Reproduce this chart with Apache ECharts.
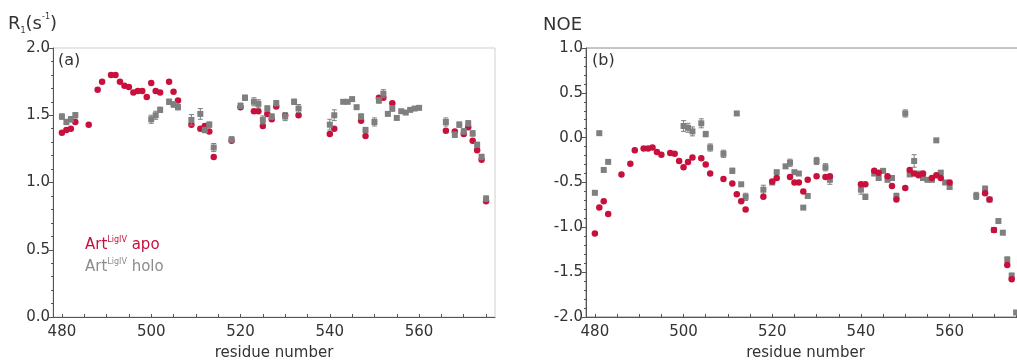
<!DOCTYPE html>
<html>
<head>
<meta charset="utf-8">
<script src="https://cdn.jsdelivr.net/npm/echarts@6/dist/echarts.min.js"></script>
<style>html,body{margin:0;padding:0;background:#fff}#c{width:1017px;height:361px}</style>
</head>
<body>
<div id="c"></div>
<script>
// ---- data (R1 panel a) ----
const r1Residues = [480,481,482,483,486,488,489,491,492,493,494,495,496,497,498,499,500,501,502,504,505,506,509,511,512,513,514,518,520,521,523,524,525,526,527,528,530,532,533,540,541,543,544,545,546,547,548,550,551,552,553,554,555,556,557,558,559,560,566,568,569,570,571,572,573,574,575];
const r1Apo = [1.37,1.39,1.40,1.45,1.43,1.69,1.75,1.80,1.80,1.75,1.72,1.71,1.67,1.68,1.68,1.635,1.74,1.68,1.67,1.75,1.675,1.61,1.43,1.40,1.42,1.38,1.19,1.31,1.56,null,1.53,1.53,1.42,1.51,1.47,1.565,1.50,null,1.50,1.36,1.40,null,null,null,null,1.46,1.345,null,1.63,1.63,null,1.59,null,null,null,null,null,null,1.385,1.38,null,1.36,1.41,1.31,1.24,1.17,0.86];
const r1Holo = [1.49,1.45,1.47,1.50,null,null,null,null,null,null,null,null,null,null,null,null,1.47,1.50,1.54,1.60,1.58,1.56,1.465,1.51,1.39,1.43,1.26,1.32,1.57,1.63,1.60,1.585,1.465,1.55,1.49,1.59,1.49,1.60,1.55,1.43,1.50,1.60,1.60,1.62,1.56,1.49,1.39,1.45,1.61,1.66,1.51,1.55,1.48,1.53,1.52,1.54,1.55,1.555,1.45,1.355,1.43,1.38,1.44,1.365,1.28,1.19,0.88];
const r1HoloErr = [0.02,0.02,0.02,0.02,0,0,0,0,0,0,0,0,0,0,0,0,0.03,0.03,0.02,0.02,0.02,0.02,0.04,0.04,0.02,0.02,0.03,0.02,0.02,0.02,0.03,0.03,0.03,0.02,0.02,0.02,0.03,0.02,0.03,0.04,0.04,0.01,0.01,0.01,0.01,0.02,0.02,0.03,0.02,0.03,0.01,0.02,0.01,0.01,0.01,0.01,0.01,0.01,0.03,0.02,0.02,0.02,0.02,0.02,0.02,0.02,0.02];

// ---- data (NOE panel b) ----
const noeResidues = [480,481,482,483,486,488,489,491,492,493,494,495,497,498,499,500,501,502,504,505,506,509,511,512,513,514,518,520,521,523,524,525,526,527,528,530,532,533,540,541,543,544,545,546,547,548,550,551,552,553,554,555,556,557,558,559,560,566,568,569,570,571,572,573,574,575];
const noeApo = [-1.07,-0.78,-0.71,-0.85,-0.41,-0.29,-0.14,-0.12,-0.12,-0.11,-0.16,-0.19,-0.17,-0.18,-0.26,-0.33,-0.27,-0.22,-0.23,-0.30,-0.40,-0.46,-0.51,-0.63,-0.71,-0.80,-0.66,-0.49,-0.45,null,-0.44,-0.50,-0.50,-0.60,-0.47,-0.43,-0.44,-0.43,-0.52,-0.52,-0.37,-0.39,null,-0.43,-0.54,-0.69,-0.56,-0.36,-0.40,-0.42,-0.40,null,-0.45,-0.42,-0.45,null,-0.50,null,-0.62,-0.69,-1.03,null,null,-1.42,-1.58,null];
const noeHolo = [-0.615,0.05,-0.36,-0.27,null,null,null,null,null,null,null,null,null,null,null,0.13,0.11,0.07,0.16,0.04,-0.11,-0.18,-0.37,0.27,-0.52,-0.66,-0.58,-0.50,-0.385,-0.32,-0.28,-0.385,-0.40,-0.78,-0.65,-0.26,-0.33,-0.47,-0.58,-0.66,-0.40,-0.45,-0.37,-0.47,-0.45,-0.65,0.27,-0.41,-0.26,-0.40,-0.45,-0.47,-0.47,-0.03,-0.39,-0.50,-0.55,-0.65,-0.57,-0.69,-1.03,-0.93,-1.06,-1.36,-1.54,-1.95];
const noeHoloErr = [0.01,0.01,0.01,0.01,0,0,0,0,0,0,0,0,0,0,0,0.06,0.05,0.05,0.05,0.03,0.04,0.04,0.03,0.01,0.02,0.04,0.05,0.02,0.02,0.02,0.04,0.02,0.02,0.01,0.02,0.04,0.04,0.05,0.05,0.03,0.02,0.02,0.02,0.02,0.02,0.03,0.04,0.02,0.07,0.02,0.02,0.02,0.02,0.01,0.02,0.02,0.02,0.04,0.03,0.02,0.02,0.02,0.02,0.03,0.03,0.02];

const xLabelValues = [480,500,520,540,560];
const xTickValues = [480,485,490,495,500,505,510,515,520,525,530,535,540,545,550,555,560,565,570,575];

const RED = '#c8103c', GRAY = '#7f7f7f', TXT = '#333', AX = '#555';
const FONT = 'DejaVu Sans';

function pairs(xs, ys) { const o=[]; xs.forEach((x,i)=>{ if(ys[i]!==null) o.push([x,ys[i]]); }); return o; }
function triples(xs, ys, es) { const o=[]; xs.forEach((x,i)=>{ if(ys[i]!==null && es[i]>0) o.push([x,ys[i],es[i]]); }); return o; }

function errItem(params, api) {
  const x=api.value(0), y=api.value(1), e=api.value(2);
  const hi=api.coord([x,y+e]), lo=api.coord([x,y-e]);
  const w=2.5, st={stroke:GRAY, lineWidth:1};
  return {type:'group', children:[
    {type:'line', shape:{x1:hi[0],y1:hi[1],x2:lo[0],y2:lo[1]}, style:st},
    {type:'line', shape:{x1:hi[0]-w,y1:hi[1],x2:hi[0]+w,y2:hi[1]}, style:st},
    {type:'line', shape:{x1:lo[0]-w,y1:lo[1],x2:lo[0]+w,y2:lo[1]}, style:st}
  ]};
}

function xAxisCfg(gi) {
  return {
    type:'value', gridIndex:gi, min:478, max:577,
    name:'residue number', nameLocation:'middle', nameGap:29,
    nameTextStyle:{fontFamily:FONT, fontSize:15, color:TXT},
    axisLine:{show:true, onZero:false, lineStyle:{color:AX, width:1}},
    axisTick:{show:true, inside:true, length:3, customValues:xTickValues, lineStyle:{color:AX}},
    axisLabel:{customValues:xLabelValues, fontFamily:FONT, fontSize:15, color:TXT, margin:8},
    splitLine:{show:false}
  };
}
function yAxisCfg(gi, mn, mx) {
  return {
    type:'value', gridIndex:gi, min:mn, max:mx, interval:0.5,
    axisLine:{show:true, onZero:false, lineStyle:{color:AX, width:1}},
    axisTick:{show:true, length:4, lineStyle:{color:AX}},
    minorTick:{show:true, splitNumber:5, length:2, lineStyle:{color:AX}},
    axisLabel:{fontFamily:FONT, fontSize:15, color:TXT, margin:3, formatter:v=>v.toFixed(1)},
    splitLine:{show:false}
  };
}

const chart = echarts.init(document.getElementById('c'), null, {renderer:'canvas'});
chart.setOption({
  animation:false,
  backgroundColor:'#fff',
  grid:[
    {left:53, top:48, width:442, height:269, outerBoundsMode:'none', containLabel:false, show:true, borderColor:'#cfcfcf', borderWidth:1, backgroundColor:'transparent'},
    {left:586, top:48, width:439, height:269, outerBoundsMode:'none', containLabel:false, show:true, borderColor:'#8a8a8a', borderWidth:1, backgroundColor:'transparent'}
  ],
  xAxis:[xAxisCfg(0), xAxisCfg(1)],
  yAxis:[yAxisCfg(0,0,2), yAxisCfg(1,-2,1)],
  series:[
    {type:'scatter', xAxisIndex:0, yAxisIndex:0, symbol:'circle', symbolSize:6.5, itemStyle:{color:RED, opacity:1}, data:pairs(r1Residues,r1Apo), z:2},
    {type:'custom', xAxisIndex:0, yAxisIndex:0, renderItem:errItem, data:triples(r1Residues,r1Holo,r1HoloErr), z:3},
    {type:'scatter', xAxisIndex:0, yAxisIndex:0, symbol:'rect', symbolSize:6, itemStyle:{color:GRAY, opacity:1}, data:pairs(r1Residues,r1Holo), z:4},
    {type:'custom', xAxisIndex:1, yAxisIndex:1, renderItem:errItem, data:triples(noeResidues,noeHolo,noeHoloErr), z:2},
    {type:'scatter', xAxisIndex:1, yAxisIndex:1, symbol:'rect', symbolSize:6, itemStyle:{color:GRAY, opacity:1}, data:pairs(noeResidues,noeHolo), z:3},
    {type:'scatter', xAxisIndex:1, yAxisIndex:1, symbol:'circle', symbolSize:6.5, itemStyle:{color:RED, opacity:1}, data:pairs(noeResidues,noeApo), z:4}
  ],
  graphic:[
    {type:'text', left:8, top:13, style:{text:'{m|R}{sub|1}{m|(s}{sup|-1}{m|)}', fill:TXT,
      rich:{m:{fontFamily:FONT, fontSize:18, lineHeight:22, fill:TXT, verticalAlign:'middle'},
            sub:{fontFamily:FONT, fontSize:8, fill:TXT, verticalAlign:'bottom', lineHeight:22},
            sup:{fontFamily:FONT, fontSize:8, fill:TXT, verticalAlign:'top', lineHeight:22}}}},
    {type:'text', left:543, top:16, style:{text:'NOE', fontFamily:FONT, fontSize:18, fill:TXT}},
    {type:'text', left:58, top:53, style:{text:'(a)', fontFamily:FONT, fontSize:16, fill:TXT}},
    {type:'text', left:592, top:53, style:{text:'(b)', fontFamily:FONT, fontSize:16, fill:TXT}},
    {type:'text', left:85, top:236, style:{text:'{a|Art}{s|LigIV}{a| apo}',
      rich:{a:{fontFamily:FONT, fontSize:15, fill:RED, lineHeight:18, verticalAlign:'middle'},
            s:{fontFamily:FONT, fontSize:8, fill:RED, lineHeight:18, verticalAlign:'top'}}}},
    {type:'text', left:85, top:258, style:{text:'{a|Art}{s|LigIV}{a| holo}',
      rich:{a:{fontFamily:FONT, fontSize:15, fill:'#8c8c8c', lineHeight:18, verticalAlign:'middle'},
            s:{fontFamily:FONT, fontSize:8, fill:'#8c8c8c', lineHeight:18, verticalAlign:'top'}}}}
  ]
});
</script>
</body>
</html>
